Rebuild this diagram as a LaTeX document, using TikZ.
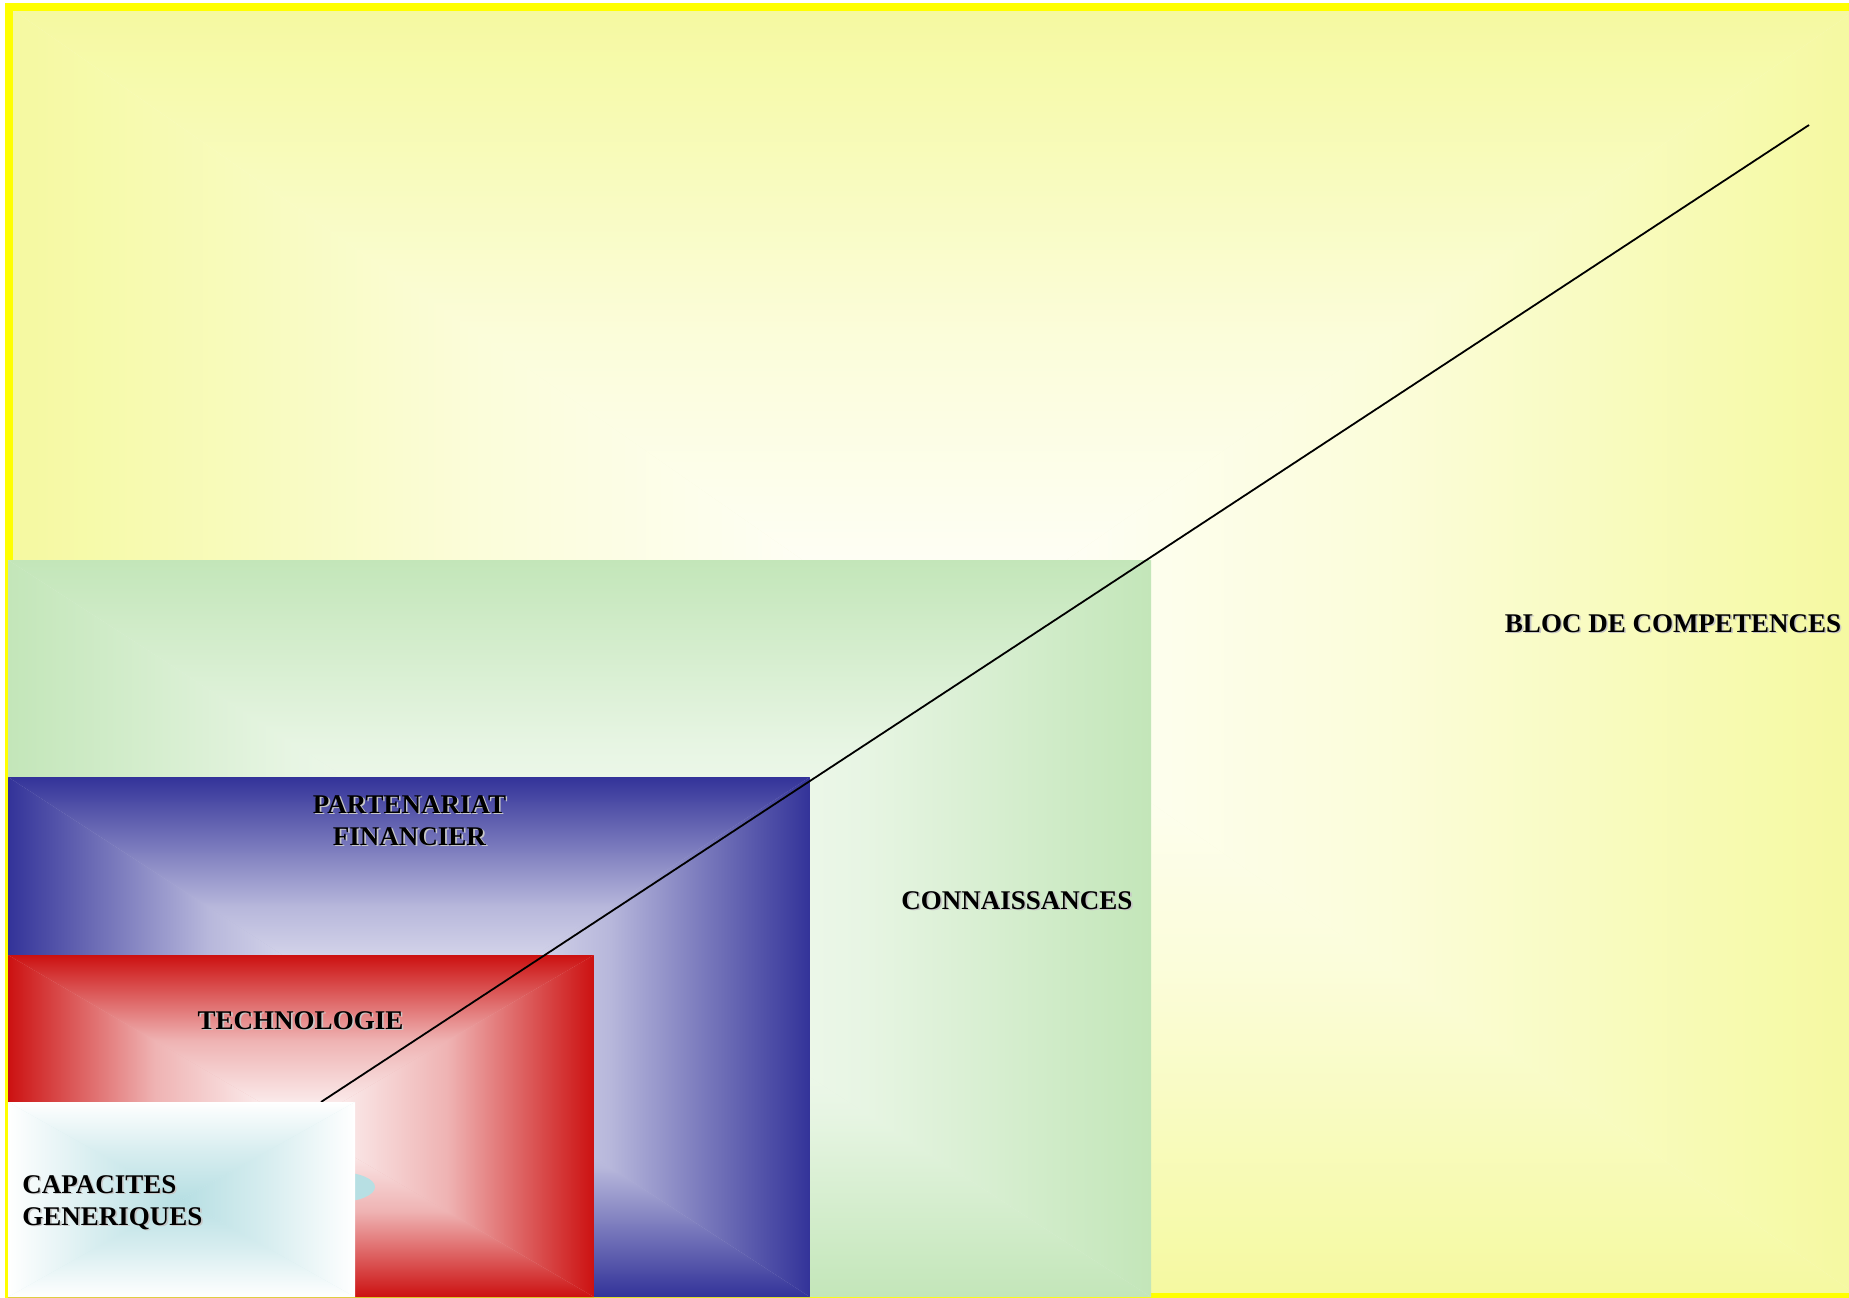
\documentclass[tikz,border=0pt]{standalone}
\usepackage{fontspec}
\setmainfont{Liberation Serif}
\definecolor{yelE}{HTML}{F5F9A0}
\definecolor{yelB}{HTML}{FFFF00}
\definecolor{grnE}{HTML}{C3E6B9}
\definecolor{bluE}{HTML}{333399}
\definecolor{redE}{HTML}{CC1111}
\definecolor{cyaC}{HTML}{B7DFE3}
\newcommand\rectgrad[7]{%
\pgfmathsetmacro\rgcx{(#1+#3)/2}\pgfmathsetmacro\rgcy{(#2+#4)/2}%
\fill[#6] (#1,#2) rectangle (#3,#4);
\begin{scope}\clip (#1,#2) -- (#3,#2) -- (\rgcx,\rgcy) -- cycle;
\shade[top color=#5,bottom color=#7,middle color=#6] (#1,#2) rectangle (#3,\rgcy);\end{scope}
\begin{scope}\clip (#1,#4) -- (#3,#4) -- (\rgcx,\rgcy) -- cycle;
\shade[top color=#7,bottom color=#5,middle color=#6] (#1,\rgcy) rectangle (#3,#4);\end{scope}
\begin{scope}\clip (#1,#2) -- (#1,#4) -- (\rgcx,\rgcy) -- cycle;
\shade[left color=#5,right color=#7,middle color=#6] (#1,#2) rectangle (\rgcx,#4);\end{scope}
\begin{scope}\clip (#3,#2) -- (#3,#4) -- (\rgcx,\rgcy) -- cycle;
\shade[left color=#7,right color=#5,middle color=#6] (\rgcx,#2) rectangle (#3,#4);\end{scope}
}
\newcommand\shd[1]{\rlap{\kern0.8pt\raisebox{-0.8pt}{\textcolor{black!22}{#1}}}#1}
\begin{document}
\begin{tikzpicture}[x=0.5pt,y=-0.5pt,
  lbl/.style={font=\fontsize{13.5}{16}\selectfont\bfseries,inner sep=0pt,text=black},
  border/.style={draw=yelB,line width=4pt},
  link/.style={draw=black,line width=0.9pt}]
\useasboundingbox (0,0) rectangle (1849,1297);
\fill[white] (0,0) rectangle (1849,1297);
% yellow block
\rectgrad{9}{7}{1860}{1297}{yelE}{yelE!40!white}{white}
\draw[border] (9,7) rectangle (1860,1297);
% green
\rectgrad{8}{560}{1151}{1297}{grnE}{grnE!40!white}{white}
% blue
\rectgrad{8}{777}{810}{1297}{bluE}{bluE!35!white}{white}
% red
\rectgrad{8}{955}{594}{1297}{redE}{redE!32!white}{white}
% connector
\coordinate (lineA) at (321,1102);
\coordinate (lineB) at (1809,125);
\draw[link] (lineA) -- (lineB);
% cyan ellipse peeking out
\fill[cyaC] (338,1187) ellipse [x radius=37, y radius=15];
% white box
\rectgrad{8}{1102}{355}{1297}{white}{cyaC!55!white}{cyaC}
% labels
\node[lbl,anchor=base] (part1) at (409.5,813) {\shd{PARTENARIAT}};
\node[lbl,anchor=base] (part2) at (409.5,845) {\shd{FINANCIER}};
\node[lbl,anchor=base] (tech) at (300.5,1029) {\shd{TECHNOLOGIE}};
\node[lbl,anchor=base west] (cap1) at (22,1193) {\shd{CAPACITES}};
\node[lbl,anchor=base west] (cap2) at (22,1225) {\shd{GENERIQUES}};
\node[lbl,anchor=base] (bloc) at (1673,632) {\shd{BLOC DE COMPETENCES}};
\node[lbl,anchor=base] (conn) at (1017,909) {\shd{CONNAISSANCES}};
\end{tikzpicture}
\end{document}
